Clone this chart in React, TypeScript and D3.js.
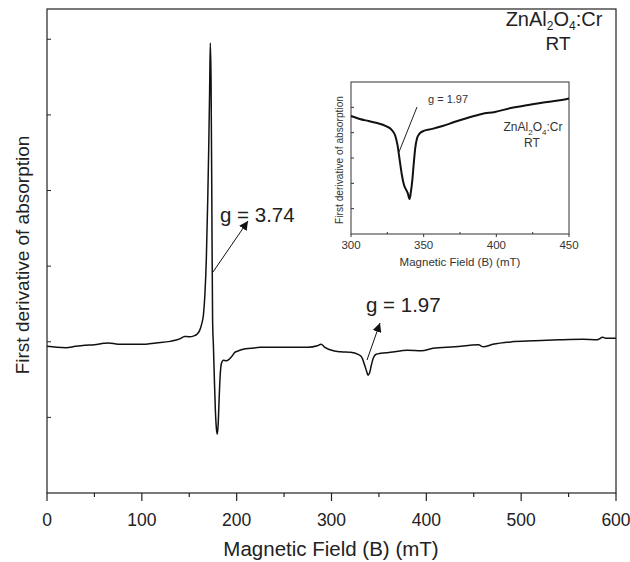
import React from "react";
import * as d3 from "d3";

// Main spectrum: magnetic field (mT) and first-derivative intensity (arb. units)
const mainField = [0, 10, 20, 30, 40, 50, 60, 65, 75, 85, 100, 115, 130, 140, 145, 150, 155, 158, 161, 163, 165, 166.5, 168, 169.5, 170.5, 171.5, 172.2, 173, 173.8, 174.6, 175.5, 176.5, 177.5, 178.5, 179.6, 180.5, 181.5, 182.5, 184, 186, 189, 192, 195, 198, 202, 207, 215, 225, 240, 260, 275, 285, 289, 293, 302, 310, 320, 328, 332, 335, 337, 338.5, 340, 342, 344, 347, 352, 362, 380, 395, 407, 430, 455, 460, 470, 490, 513, 540, 565, 580, 586, 590, 600];
const mainSignal = [1.939, 1.926, 1.92, 1.939, 1.953, 1.959, 1.979, 1.985, 1.966, 1.966, 1.966, 1.985, 2.005, 2.038, 2.071, 2.065, 2.078, 2.098, 2.15, 2.23, 2.36, 2.625, 3.087, 3.879, 4.538, 5.33, 5.95, 5.46, 3.88, 2.3, 1.94, 1.5, 1.11, 0.871, 0.778, 0.91, 1.24, 1.53, 1.715, 1.755, 1.748, 1.768, 1.807, 1.86, 1.88, 1.9, 1.913, 1.926, 1.926, 1.926, 1.926, 1.946, 1.966, 1.926, 1.88, 1.867, 1.86, 1.834, 1.794, 1.689, 1.61, 1.557, 1.583, 1.689, 1.781, 1.834, 1.847, 1.86, 1.887, 1.88, 1.913, 1.933, 1.959, 1.933, 1.966, 1.999, 2.012, 2.025, 2.032, 2.025, 2.058, 2.045, 2.045];

// Inset spectrum (300-450 mT)
const insetField = [300, 306, 312, 318, 324, 328, 330.5, 332, 333.5, 335, 336.5, 338, 339, 340.3, 341.2, 342.2, 343.2, 344.2, 345.5, 347, 350, 356, 363, 371, 380, 390, 399, 410, 422, 435, 445, 450];
const insetSignal = [4.66, 4.54, 4.46, 4.38, 4.26, 4.11, 3.87, 3.51, 2.92, 2.33, 1.93, 1.74, 1.62, 1.38, 1.66, 2.13, 2.8, 3.39, 3.79, 3.95, 4.07, 4.15, 4.26, 4.42, 4.58, 4.74, 4.82, 4.97, 5.09, 5.21, 5.29, 5.35];

const mainXTicks = [0, 100, 200, 300, 400, 500, 600];
const mainXMinor = [50, 150, 250, 350, 450, 550];
const mainYTicks = [1, 2, 3, 4, 5, 6];
const insetXTicks = [300, 350, 400, 450];
const insetXMinor = [325, 375, 425];
const insetYTicks = [1, 2, 3, 4, 5];

const FONT = "'Liberation Sans', Arial, Helvetica, sans-serif";

export default function App() {
  const W = 630, H = 562;
  const m = { left: 47, right: 616, top: 9, bottom: 493 };
  const x = d3.scaleLinear().domain([0, 600]).range([m.left, m.right]);
  const y = d3.scaleLinear().domain([0, 6.4]).range([m.bottom, m.top]);

  const im = { left: 351, right: 569, top: 82, bottom: 234 };
  const ix = d3.scaleLinear().domain([300, 450]).range([im.left, im.right]);
  const iy = d3.scaleLinear().domain([0, 6]).range([im.bottom, im.top]);

  const mainPts: [number, number][] = mainField.map((f, i) => [f, mainSignal[i]]);
  const insetPts: [number, number][] = insetField.map((f, i) => [f, insetSignal[i]]);

  const mainLine = d3.line<[number, number]>().x(d => x(d[0])).y(d => y(d[1])).curve(d3.curveMonotoneX);
  const insetLine = d3.line<[number, number]>().x(d => ix(d[0])).y(d => iy(d[1])).curve(d3.curveMonotoneX);

  return (
    <svg width={W} height={H} style={{ position: "absolute", left: 0, top: 0, background: "#fff" }} fontFamily={FONT}>
      <defs>
        <marker id="arr" viewBox="0 0 10 10" refX="10" refY="5" markerWidth="9" markerHeight="9" markerUnits="userSpaceOnUse" orient="auto">
          <path d="M0,0 L10,5 L0,10 z" fill="#111" />
        </marker>
      </defs>
      <rect x={0} y={0} width={W} height={H} fill="#fff" />

      {/* main frame */}
      <rect x={m.left} y={m.top} width={m.right - m.left} height={m.bottom - m.top} fill="none" stroke="#222" strokeWidth={1.2} />
      {mainXTicks.map(t => (
        <g key={"mx" + t}>
          <line x1={x(t)} x2={x(t)} y1={m.bottom} y2={m.bottom + 8} stroke="#222" strokeWidth={1.2} />
          <text x={x(t)} y={526} fontSize={17.5} textAnchor="middle" fill="#222">{t}</text>
        </g>
      ))}
      {mainXMinor.map(t => (
        <line key={"mxm" + t} x1={x(t)} x2={x(t)} y1={m.bottom} y2={m.bottom + 4} stroke="#222" strokeWidth={1.2} />
      ))}
      {mainYTicks.map(t => (
        <line key={"my" + t} x1={m.left} x2={m.left + 4} y1={y(t)} y2={y(t)} stroke="#222" strokeWidth={1} />
      ))}
      <text x={331} y={556} fontSize={20.5} textAnchor="middle" fill="#222">Magnetic Field (B) (mT)</text>
      <text transform={`translate(29,255) rotate(-90)`} fontSize={19} textAnchor="middle" fill="#222">First derivative of absorption</text>

      <path d={mainLine(mainPts) || ""} fill="none" stroke="#111" strokeWidth={1.5} />

      {/* annotations */}
      <text x={220} y={222} fontSize={20.5} fill="#222">g = 3.74</text>
      <line x1={213} y1={272} x2={248} y2={221} stroke="#111" strokeWidth={1} markerEnd="url(#arr)" />
      <text x={366} y={312} fontSize={20.5} fill="#222">g = 1.97</text>
      <line x1={367} y1={360} x2={380} y2={323} stroke="#111" strokeWidth={1} markerEnd="url(#arr)" />

      <text x={554} y={26} fontSize={20} textAnchor="middle" fill="#222">
        ZnAl<tspan fontSize={12} dy={4}>2</tspan><tspan dy={-4}>O</tspan><tspan fontSize={12} dy={4}>4</tspan><tspan dy={-4}>:Cr</tspan>
      </text>
      <text x={558} y={50} fontSize={19} textAnchor="middle" fill="#222">RT</text>

      {/* inset */}
      <rect x={im.left} y={im.top} width={im.right - im.left} height={im.bottom - im.top} fill="none" stroke="#333" strokeWidth={1} />
      {insetXTicks.map(t => (
        <g key={"ix" + t}>
          <line x1={ix(t)} x2={ix(t)} y1={im.bottom} y2={im.bottom + 3} stroke="#333" strokeWidth={1} />
          <text x={ix(t)} y={249} fontSize={11.5} textAnchor="middle" fill="#333">{t}</text>
        </g>
      ))}
      {insetXMinor.map(t => (
        <line key={"ixm" + t} x1={ix(t)} x2={ix(t)} y1={im.bottom} y2={im.bottom - 2} stroke="#333" strokeWidth={1} />
      ))}
      {insetYTicks.map(t => (
        <line key={"iy" + t} x1={im.left} x2={im.left + 3} y1={iy(t)} y2={iy(t)} stroke="#333" strokeWidth={1} />
      ))}
      <text x={460} y={266} fontSize={11.5} textAnchor="middle" fill="#333">Magnetic Field (B) (mT)</text>
      <text transform={`translate(343,160) rotate(-90)`} fontSize={10.2} textAnchor="middle" fill="#333">First derivative of absorption</text>
      <path d={insetLine(insetPts) || ""} fill="none" stroke="#111" strokeWidth={2} />
      <line x1={399} y1={152} x2={417} y2={107} stroke="#222" strokeWidth={1} />
      <text x={428} y={103} fontSize={11} fill="#333">g = 1.97</text>
      <text x={533} y={131} fontSize={12} textAnchor="middle" fill="#333">
        ZnAl<tspan fontSize={8} dy={4}>2</tspan><tspan dy={-4}>O</tspan><tspan fontSize={8} dy={4}>4</tspan><tspan dy={-4}>:Cr</tspan>
      </text>
      <text x={532} y={147} fontSize={12} textAnchor="middle" fill="#333">RT</text>
    </svg>
  );
}
